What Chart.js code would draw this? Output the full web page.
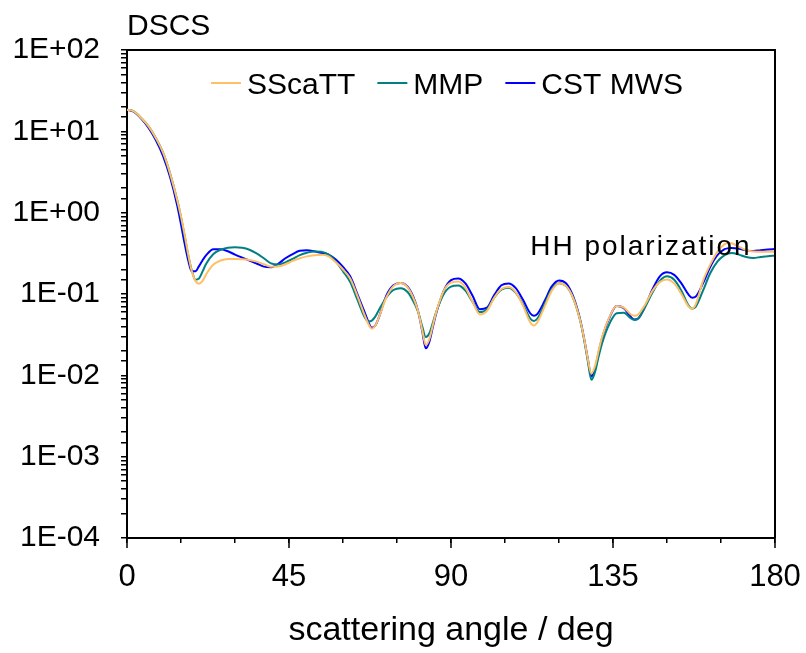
<!DOCTYPE html>
<html><head><meta charset="utf-8">
<script src="https://cdn.jsdelivr.net/npm/chart.js@4"></script>
<style>html,body{margin:0;padding:0;background:#fff;}canvas{display:block;}</style>
</head><body>
<canvas id="c" width="806" height="653"></canvas>
<script>
const angles = [0,2,4,6,8,10,12,14,15,16,17,18,19,20,21,22,24,26,28,30,32,34,36,38,40,42,44,46,48,50,52,54,56,58,60,62,64,66,67,68,69,70,72,74,76,78,80,81,82,83,84,85,86,88,90,92,94,96,98,100,102,104,106,108,110,112,113,114,116,118,120,122,124,126,127,128,129,130,131,132,134,136,138,140,141,142,144,146,148,150,152,154,156,157,158,160,162,164,166,167,168,170,172,174,176,178,180];

const sscatt = [18.5,17.5,14.5,11.5,8.3,5.5,3.0,1.4,0.9,0.54,0.31,0.19,0.145,0.134,0.145,0.175,0.23,0.258,0.27,0.27,0.268,0.262,0.25,0.232,0.217,0.218,0.232,0.255,0.275,0.29,0.3,0.303,0.29,0.245,0.2,0.155,0.095,0.055,0.043,0.0375,0.041,0.052,0.09,0.125,0.137,0.12,0.08,0.058,0.036,0.0235,0.028,0.042,0.062,0.11,0.138,0.142,0.12,0.08,0.056,0.062,0.09,0.115,0.122,0.105,0.072,0.045,0.041,0.045,0.07,0.11,0.136,0.125,0.088,0.045,0.028,0.016,0.0105,0.013,0.02,0.03,0.052,0.071,0.068,0.056,0.054,0.056,0.075,0.11,0.14,0.151,0.135,0.1,0.07,0.066,0.075,0.145,0.23,0.33,0.41,0.425,0.42,0.38,0.345,0.332,0.33,0.33,0.33];

const mmp = [18.5,17.5,14.5,11.5,8.3,5.5,3.0,1.4,0.88,0.52,0.3,0.195,0.15,0.155,0.19,0.235,0.31,0.35,0.37,0.375,0.37,0.35,0.315,0.275,0.238,0.23,0.245,0.27,0.3,0.322,0.334,0.33,0.305,0.25,0.19,0.14,0.085,0.052,0.046,0.047,0.053,0.064,0.09,0.112,0.118,0.105,0.074,0.058,0.04,0.0295,0.033,0.045,0.062,0.1,0.123,0.127,0.11,0.08,0.06,0.065,0.09,0.113,0.119,0.103,0.075,0.05,0.0465,0.05,0.075,0.115,0.136,0.125,0.088,0.045,0.027,0.015,0.0088,0.011,0.017,0.025,0.043,0.058,0.059,0.05,0.048,0.05,0.07,0.105,0.145,0.165,0.15,0.11,0.072,0.066,0.07,0.11,0.18,0.25,0.3,0.315,0.32,0.305,0.285,0.278,0.285,0.292,0.296];

const cstMws = [18.5,17.3,14.2,11,7.8,5.0,2.7,1.2,0.72,0.42,0.26,0.19,0.19,0.22,0.26,0.3,0.355,0.355,0.335,0.305,0.28,0.258,0.237,0.217,0.213,0.235,0.275,0.31,0.34,0.345,0.335,0.32,0.305,0.265,0.215,0.165,0.1,0.06,0.046,0.0385,0.041,0.052,0.095,0.128,0.137,0.122,0.082,0.058,0.035,0.0215,0.026,0.04,0.06,0.11,0.148,0.155,0.135,0.095,0.065,0.068,0.097,0.128,0.135,0.118,0.085,0.058,0.054,0.057,0.082,0.124,0.147,0.135,0.092,0.046,0.028,0.016,0.0097,0.012,0.019,0.029,0.051,0.071,0.067,0.052,0.0486,0.05,0.072,0.115,0.165,0.185,0.172,0.135,0.098,0.09,0.093,0.135,0.215,0.3,0.355,0.365,0.369,0.36,0.343,0.337,0.345,0.352,0.358];

const seriesNames = ['SScaTT','MMP','CST MWS'];
const seriesColors = ['#FFBF66','#008080','#0000FF'];
const xTickValues = [0,15,30,45,60,75,90,105,120,135,150,165,180];
const xTickLabels = ['0','45','90','135','180'];
const yTickLabels = ['1E-04','1E-03','1E-02','1E-01','1E+00','1E+01','1E+02'];
const chartTitle = 'DSCS';
const xAxisTitle = 'scattering angle / deg';
const noteText = 'HH polarization';
const noteAt = {x:112, y:0.305};

const FAMILY = "'Liberation Sans', Arial, sans-serif";

function pts(vals){ return angles.map((a,i)=>({x:a, y:vals[i]})); }

const decor = {
  id:'decor',
  afterDraw(chart){
    const {ctx, chartArea:ca, scales:{x,y}} = chart;
    ctx.save();
    ctx.strokeStyle='#000'; ctx.lineWidth=2;
    ctx.beginPath();
    ctx.moveTo(ca.left-1, ca.top); ctx.lineTo(ca.right, ca.top); ctx.lineTo(ca.right, ca.bottom);
    ctx.stroke();
    // longer major ticks on x axis
    ctx.lineWidth=1.5;
    xTickLabels.forEach(l=>{
      const px = x.getPixelForValue(Number(l));
      ctx.beginPath(); ctx.moveTo(px, ca.bottom); ctx.lineTo(px, ca.bottom+10); ctx.stroke();
    });
    // title
    ctx.fillStyle='#000';
    ctx.textAlign='left'; ctx.textBaseline='alphabetic';
    ctx.font='30px '+FAMILY;
    ctx.fillText(chartTitle, ca.left, ca.top-15);
    // legend
    const gapLine=6, lineLen=30, gapItem=22;
    let widths = chart.data.datasets.map(d=>ctx.measureText(d.label).width);
    let total = widths.reduce((s,w)=>s+w+lineLen+gapLine,0)+gapItem*(widths.length-1);
    let cx = (ca.left+ca.right)/2 - 4 - total/2;
    const ly = ca.top+33;
    chart.data.datasets.forEach((d,i)=>{
      ctx.strokeStyle=d.borderColor; ctx.lineWidth=2;
      ctx.beginPath(); ctx.moveTo(cx, ly); ctx.lineTo(cx+lineLen, ly); ctx.stroke();
      ctx.fillStyle='#000';
      ctx.fillText(d.label, cx+lineLen+gapLine, ly+11);
      cx += lineLen+gapLine+widths[i]+gapItem;
    });
    // annotation
    ctx.font='28px '+FAMILY;
    if ('letterSpacing' in ctx) ctx.letterSpacing='2px';
    ctx.fillText(noteText, x.getPixelForValue(noteAt.x), y.getPixelForValue(noteAt.y));
    ctx.restore();
  }
};

new Chart(document.getElementById('c'), {
  type:'line',
  data:{
    datasets:[
      {label:seriesNames[0], data:pts(sscatt), borderColor:seriesColors[0]},
      {label:seriesNames[1], data:pts(mmp), borderColor:seriesColors[1]},
      {label:seriesNames[2], data:pts(cstMws), borderColor:seriesColors[2]}
    ].map(d=>Object.assign(d,{borderWidth:2, pointRadius:0, fill:false, cubicInterpolationMode:'monotone'}))
  },
  options:{
    responsive:false, animation:false,
    layout:{padding:{top:50,right:31,bottom:0,left:0}},
    plugins:{legend:{display:false}, tooltip:{enabled:false}, title:{display:false}},
    scales:{
      x:{
        type:'linear', min:0, max:180,
        afterFit(s){ s.height=115; s.paddingLeft=0; s.paddingRight=0; },
        afterBuildTicks(s){ s.ticks = xTickValues.map(v=>({value:v})); },
        grid:{drawOnChartArea:false, drawTicks:true, tickLength:5, color:'#000', lineWidth:1.5},
        border:{display:true, color:'#000', width:2},
        ticks:{autoSkip:false, maxRotation:0, padding:16, color:'#000', font:{family:FAMILY, size:31},
          callback(v){ return v%45===0 ? xTickLabels[v/45] : ''; }},
        title:{display:true, text:xAxisTitle, color:'#000', font:{family:FAMILY, size:34}, padding:{top:0,bottom:2}}
      },
      y:{
        type:'logarithmic', min:1e-4, max:100,
        afterFit(s){ s.width=127; s.paddingTop=0; s.paddingBottom=0; },
        grid:{drawOnChartArea:false, drawTicks:true, tickLength:6, color:'#000', lineWidth:1.5},
        border:{display:true, color:'#000', width:2},
        ticks:{autoSkip:false, padding:21, color:'#000', font:{family:FAMILY, size:30},
          callback(v){ const e=Math.log10(v); const r=Math.round(e); return Math.abs(e-r)<1e-6 ? yTickLabels[r+4] : ''; }}
      }
    }
  },
  plugins:[decor]
});
</script>
</body></html>
